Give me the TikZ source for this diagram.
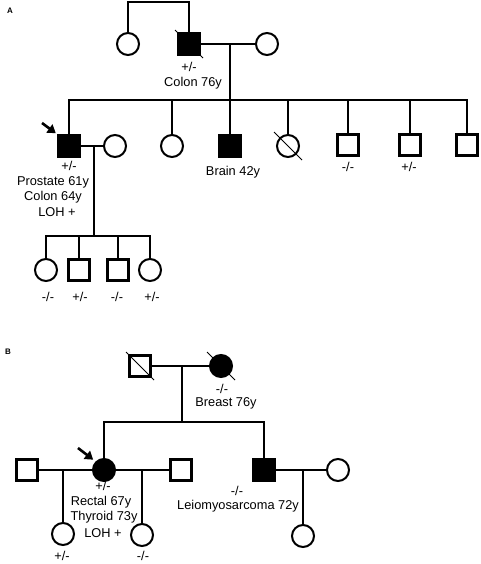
\documentclass[tikz,border=0pt]{standalone}
\usepackage{fontspec}
\setmainfont{Liberation Sans}
\usetikzlibrary{arrows.meta}
% slash through a deceased person
\newcommand\deadslash[1]{\draw[line width=.8pt] (#1.center) ++(-14,-14) -- ++(28,28);}

\begin{document}
\begin{tikzpicture}[x=1pt, y=-1pt, line width=1.1pt,
  male/.style={draw, rectangle, minimum size=21pt, inner sep=0pt, line width=2.2pt},
  female/.style={draw, circle, minimum size=22pt, inner sep=0pt, line width=2pt},
  affected/.style={fill=black},
  lbl/.style={font=\fontsize{12.8}{15}\selectfont, inner sep=0pt},
  panel/.style={font=\bfseries\fontsize{8}{8}\selectfont, inner sep=0pt},
  proband/.style={line width=2.6pt, -{Triangle[length=8pt,width=10pt]}, shorten >=2pt}]
 \useasboundingbox (0,0) rectangle (480,564);
 \fill[white] (0,0) rectangle (480,564);

 % ---- A ----
 \node[panel] (labA) at (10,11) {A};
 \node[female] (aI1) at (128,44) {};
 \node[male, affected] (aI2) at (189,44) {};
 \node[female] (aI3) at (267,44) {};
 \deadslash{aI2}
 \coordinate (aTop) at (158,2);
 \draw (aI1.north) |- (aTop) -| (aI2.north);
 \draw (aI2.east) -- (aI3.west);
 \coordinate (aMar) at (230,44);
 \coordinate (aSib) at (230,100);
 \draw (aMar) -- (aSib);

 \node[male, affected] (aII1) at (69,146) {};
 \node[female] (aII2) at (115,146) {};
 \node[female] (aII3) at (172,146) {};
 \node[male, affected] (aII4) at (230,146) {};
 \node[female] (aII5) at (288,146) {};
 \node[male] (aII6) at (348,145) {};
 \node[male] (aII7) at (410,145) {};
 \node[male] (aII8) at (467,145) {};
 \deadslash{aII5}
 \draw (aII1.north) |- (aSib) -| (aII8.north);
 \foreach \c in {aII3,aII4,aII5,aII6,aII7}
 {
     \draw (\c.north) -- (\c.north |- aSib);
 }
 \draw (aII1.east) -- (aII2.west);
 \coordinate (aMar2) at (94,146);
 \coordinate (aSib2) at (94,236);
 \draw (aMar2) -- (aSib2);
 \coordinate (aArr) at (42,123);
 \draw[proband] (aArr) -- (aII1.north west);

 \node[female] (aIII1) at (46,270) {};
 \node[male] (aIII2) at (79,270) {};
 \node[male] (aIII3) at (118,270) {};
 \node[female] (aIII4) at (150,270) {};
 \draw (aIII1.north) |- (aSib2) -| (aIII4.north);
 \foreach \c in {aIII2,aIII3}
 {
     \draw (\c.north) -- (\c.north |- aSib2);
 }

 \node[lbl] (aI2g) at (189,67) {+/-};
 \node[lbl] (aI2d) at (193,83) {Colon 76y};
 \node[lbl] (aII1g) at (69,166) {+/-};
 \node[lbl] (aII1d) at (53,182) {Prostate 61y};
 \node[lbl] (aII1e) at (53,197) {Colon 64y};
 \node[lbl] (aII1f) at (57,212) {LOH +};
 \node[lbl] (aII4d) at (233,172) {Brain 42y};
 \node[lbl] (aII6g) at (348,167) {-/-};
 \node[lbl] (aII7g) at (409,167) {+/-};
 \node[lbl] (aIII1g) at (48,297) {-/-};
 \node[lbl] (aIII2g) at (80,297) {+/-};
 \node[lbl] (aIII3g) at (117,297) {-/-};
 \node[lbl] (aIII4g) at (152,297) {+/-};

 % ---- B ----
 \node[panel] (labB) at (8,352) {B};
 \node[male] (bI1) at (140,366) {};
 \node[female, affected] (bI2) at (221,366) {};
 \deadslash{bI1}
 \deadslash{bI2}
 \draw (bI1.east) -- (bI2.west);
 \coordinate (bMar) at (182,366);
 \coordinate (bSib) at (182,422);
 \draw (bMar) -- (bSib);

 \node[male] (bII1) at (27,470) {};
 \node[female, affected] (bII2) at (104,470) {};
 \node[male] (bII3) at (181,470) {};
 \node[male, affected] (bII4) at (264,470) {};
 \node[female] (bII5) at (338,470) {};
 \draw (bII2.north) |- (bSib) -| (bII4.north);
 \draw (bII1.east) -- (bII2.west);
 \draw (bII2.east) -- (bII3.west);
 \draw (bII4.east) -- (bII5.west);
 \coordinate (bArr) at (78,448);
 \draw[proband, shorten >=3pt] (bArr) -- (bII2.north west);

 \node[female] (bIII1) at (63,534) {};
 \node[female] (bIII2) at (142,535) {};
 \node[female] (bIII3) at (303,536) {};
 \coordinate (bMar2) at (63,470);
 \coordinate (bMar3) at (142,470);
 \coordinate (bMar4) at (303,470);
 \draw (bMar2) -- (bIII1.north);
 \draw (bMar3) -- (bIII2.north);
 \draw (bMar4) -- (bIII3.north);

 \node[lbl] (bI2g) at (222,389) {-/-};
 \node[lbl] (bI2d) at (226,403) {Breast 76y};
 \node[lbl] (bII2g) at (103,486) {+/-};
 \node[lbl] (bII2d) at (101,502) {Rectal 67y};
 \node[lbl] (bII2e) at (104,517) {Thyroid 73y};
 \node[lbl] (bII2f) at (103,533) {LOH +};
 \node[lbl] (bII4g) at (237,491) {-/-};
 \node[lbl] (bII4d) at (238,506) {Leiomyosarcoma 72y};
 \node[lbl] (bIII1g) at (62,556) {+/-};
 \node[lbl] (bIII2g) at (143,556) {-/-};
\end{tikzpicture}
\end{document}
